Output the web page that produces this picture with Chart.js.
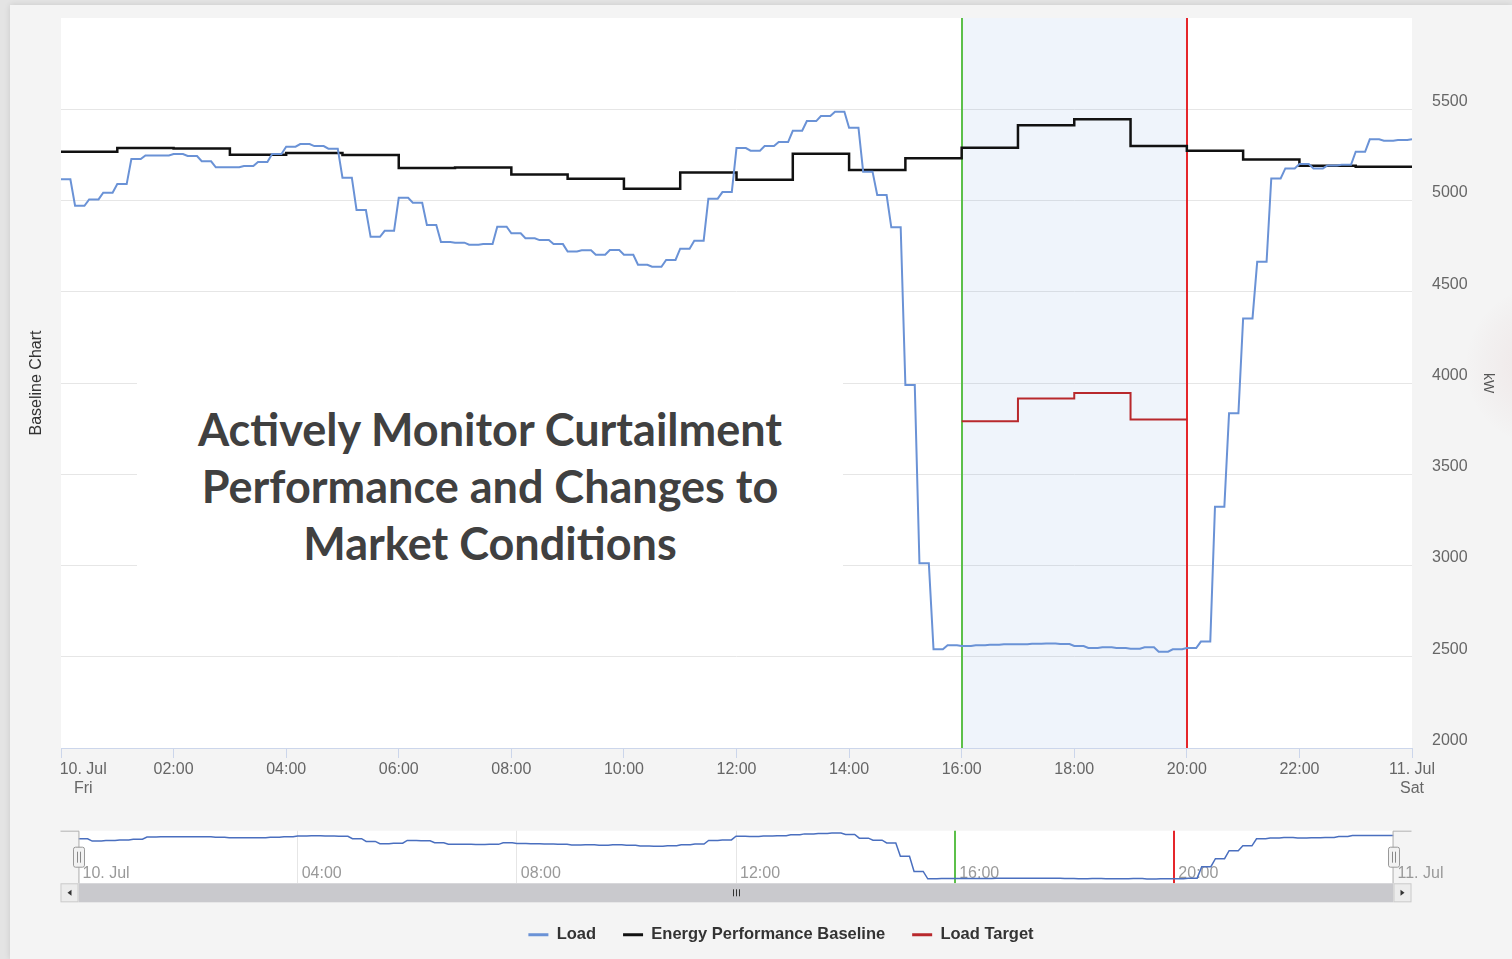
<!DOCTYPE html>
<html>
<head>
<meta charset="utf-8"/>
<title>Baseline Chart</title>
<script src="https://cdn.jsdelivr.net/npm/chart.js"></script>
<style type="text/css">
html, body{
  margin: 0;
  padding: 0;
  width: 1512px;
  height: 959px;
  overflow: hidden;
  background-color: #e4e4e4;
}
#card{
  position: absolute;
  left: 10px; top: 5px; right: 0; bottom: 0;
  background-color: #f4f4f4;
  box-shadow: 0 0 6px rgba(0,0,0,0.12);
}
#mainChart{ position: absolute; left: 0; top: 0; }
#navChart{ position: absolute; left: 0; top: 820px; }
#bubble{
  position: absolute;
  left: 1466px; top: 286px;
  width: 160px; height: 160px;
  border-radius: 50%;
  background: radial-gradient(circle, rgba(236,222,222,0.7) 0%, rgba(240,236,236,0.5) 55%, rgba(244,244,244,0) 72%);
}
#note{
  position: absolute;
  left: 137px; top: 300px;
  width: 706px; height: 350px;
  box-sizing: border-box;
  padding-top: 101px;
  background-color: #fff;
  text-align: center;
  font-family: Lato, "Open Sans", sans-serif;
  font-weight: bold;
  font-size: 45px;
  line-height: 57px;
  color: #404040;
}
</style>
</head>
<body>
<div id="card"></div>
<div id="bubble"></div>
<canvas id="mainChart" width="1535" height="953"></canvas>
<canvas id="navChart" width="1512" height="90"></canvas>
<div id="note">
  <div>Actively Monitor Curtailment</div>
  <div>Performance and Changes to</div>
  <div>Market Conditions</div>
</div>
<script>
// load in kW, one reading every 15 minutes, 10 Jul 00:00 .. 11 Jul 00:00
const loadKw = [
  5116, 4971, 5006, 5043, 5090, 5227, 5247, 5247,   // 00:00
  5255, 5244, 5215, 5182, 5182, 5189, 5211, 5255,   // 02:00
  5295, 5309, 5298, 5284, 5125, 4948, 4801, 4834,   // 04:00
  5015, 4988, 4866, 4772, 4769, 4758, 4761, 4856,   // 06:00
  4820, 4793, 4783, 4761, 4721, 4727, 4703, 4729,   // 08:00
  4703, 4648, 4637, 4674, 4736, 4780, 5010, 5046,   // 10:00
  5287, 5273, 5298, 5320, 5382, 5435, 5463, 5486,   // 12:00
  5399, 5158, 5030, 4853, 3989, 3012, 2541, 2563,   // 14:00
  2559, 2563, 2566, 2568, 2568, 2571, 2573, 2570,   // 16:00
  2559, 2548, 2552, 2548, 2544, 2552, 2528, 2541,   // 18:00
  2548, 2583, 3322, 3834, 4354, 4664, 5121, 5176,   // 20:00
  5200, 5176, 5192, 5196, 5267, 5335, 5327, 5331,   // 22:00
  5335
];
// energy performance baseline, one value per hour 00 .. 23
const baselineKw = [
  5267, 5287, 5285, 5251, 5260, 5249, 5178, 5181,
  5143, 5119, 5064, 5154, 5114, 5256, 5167, 5231,
  5289, 5413, 5445, 5298, 5273, 5225, 5190, 5185
];
// load target during the curtailment event
const targetHours = [16, 17, 18, 19];
const targetKw = [3790, 3915, 3945, 3800];
const eventStart = 16 * 60;
const eventEnd = 20 * 60;

const dayLabels = [['10. Jul', 'Fri'], ['11. Jul', 'Sat']];
const navDayLabels = ['10. Jul', '11. Jul'];

Chart.defaults.font.family = "'Liberation Sans', Arial, sans-serif";

function loadPoints(){
  var pts = [];
  for( var i = 0; i < loadKw.length; i++ ){
    pts.push({ x: i * 15, y: loadKw[i] });
    // reading is held most of the interval before moving on
    if( i < loadKw.length - 1 ) pts.push({ x: i * 15 + 10, y: loadKw[i] });
  }
  return pts;
}

function hourSteps( hours, vals ){
  var pts = hours.map(function( h, i ){ return { x: h * 60, y: vals[i] }; });
  pts.push({ x: (hours[hours.length - 1] + 1) * 60, y: vals[vals.length - 1] });
  return pts;
}

function hhmm( m ){
  var h = Math.floor( m / 60 ) % 24;
  return (h < 10 ? '0' : '') + h + ':00';
}

const baselineHours = baselineKw.map(function( v, i ){ return i; });

const eventWindow = {
  id: 'eventWindow',
  beforeDraw: function( chart ){
    var a = chart.chartArea, ctx = chart.ctx;
    ctx.save();
    ctx.fillStyle = '#ffffff';
    ctx.fillRect( a.left, a.top, a.right - a.left, a.bottom - a.top );
    ctx.restore();
  },
  beforeDatasetsDraw: function( chart, args, opts ){
    var a = chart.chartArea, ctx = chart.ctx, xs = chart.scales.x;
    var x0 = Math.round( xs.getPixelForValue( eventStart ) );
    var x1 = Math.round( xs.getPixelForValue( eventEnd ) );
    ctx.save();
    if( opts.band ){
      ctx.fillStyle = 'rgba(95,145,215,0.1)';
      ctx.fillRect( x0, a.top, x1 - x0, a.bottom - a.top );
    }
    ctx.lineWidth = 2;
    ctx.strokeStyle = '#5cc04a';
    ctx.beginPath(); ctx.moveTo( x0, a.top ); ctx.lineTo( x0, a.bottom ); ctx.stroke();
    ctx.strokeStyle = '#e5262b';
    ctx.beginPath(); ctx.moveTo( x1, a.top ); ctx.lineTo( x1, a.bottom ); ctx.stroke();
    ctx.restore();
  }
};

const navDecor = {
  id: 'navDecor',
  afterDraw: function( chart ){
    var a = chart.chartArea, ctx = chart.ctx;
    var btn = 18, top = a.bottom, h = 19;
    ctx.save();
    // scrollbar, thumb spans the whole range
    ctx.fillStyle = '#c9c9cd';
    ctx.fillRect( a.left, top, a.right - a.left, h );
    [[a.left - btn, -1], [a.right, 1]].forEach(function( b ){
      var bx = b[0], dir = b[1];
      ctx.fillStyle = '#ececec';
      ctx.fillRect( bx, top, btn, h );
      ctx.strokeStyle = '#cccccc';
      ctx.lineWidth = 1;
      ctx.strokeRect( bx + 0.5, top + 0.5, btn - 1, h - 1 );
      var cx = bx + btn / 2, cy = top + h / 2;
      ctx.fillStyle = '#333';
      ctx.beginPath();
      ctx.moveTo( cx + 2 * dir, cy );
      ctx.lineTo( cx - 2 * dir, cy - 3 );
      ctx.lineTo( cx - 2 * dir, cy + 3 );
      ctx.closePath();
      ctx.fill();
    });
    var gx = Math.round( (a.left + a.right) / 2 ), gy = top + h / 2;
    ctx.strokeStyle = '#333';
    ctx.beginPath();
    for( var k = -1; k <= 1; k++ ){
      ctx.moveTo( gx + 3 * k + 0.5, gy - 3.5 );
      ctx.lineTo( gx + 3 * k + 0.5, gy + 3.5 );
    }
    ctx.stroke();
    // outline
    ctx.strokeStyle = '#b3b3b3';
    ctx.beginPath();
    ctx.moveTo( a.left - btn, a.top + 0.5 );
    ctx.lineTo( a.left + 0.5, a.top + 0.5 );
    ctx.lineTo( a.left + 0.5, a.bottom );
    ctx.moveTo( a.right - 0.5, a.bottom );
    ctx.lineTo( a.right - 0.5, a.top + 0.5 );
    ctx.lineTo( a.right + btn, a.top + 0.5 );
    ctx.stroke();
    // handles
    [a.left, a.right].forEach(function( hx ){
      hx = Math.round( hx );
      ctx.fillStyle = '#f2f2f2';
      ctx.strokeStyle = '#999';
      ctx.beginPath();
      ctx.roundRect( hx - 5.5, a.top + 16.5, 11, 20, 2 );
      ctx.fill();
      ctx.stroke();
      ctx.strokeStyle = '#888';
      ctx.beginPath();
      ctx.moveTo( hx - 1.5, a.top + 21 ); ctx.lineTo( hx - 1.5, a.top + 32 );
      ctx.moveTo( hx + 1.5, a.top + 21 ); ctx.lineTo( hx + 1.5, a.top + 32 );
      ctx.stroke();
    });
    ctx.restore();
  }
};

const plotBottom = 748;

const mainChart = new Chart( document.getElementById( 'mainChart' ), {
  type: 'line',
  data: {
    datasets: [{
      label: 'Load',
      data: loadPoints(),
      borderColor: '#6a92d6',
      backgroundColor: '#6a92d6',
      borderWidth: 2
    }, {
      label: 'Energy Performance Baseline',
      data: hourSteps( baselineHours, baselineKw ),
      borderColor: '#111111',
      backgroundColor: '#111111',
      borderWidth: 2.5,
      stepped: true
    }, {
      label: 'Load Target',
      data: hourSteps( targetHours, targetKw ),
      borderColor: '#b8282c',
      backgroundColor: '#b8282c',
      borderWidth: 2,
      stepped: true
    }]
  },
  options: {
    responsive: false,
    animation: false,
    devicePixelRatio: 1,
    elements: { point: { radius: 0 }, line: { tension: 0 } },
    layout: { padding: { left: 27, top: 18, right: 0, bottom: 0 } },
    scales: {
      x: {
        type: 'linear',
        min: 0,
        max: 1440,
        border: { color: '#ccd6eb' },
        grid: { drawOnChartArea: false, drawTicks: true, tickLength: 10, color: '#ccd6eb' },
        ticks: {
          stepSize: 120,
          autoSkip: false,
          maxRotation: 0,
          padding: 2,
          color: '#666',
          font: { size: 16 },
          callback: function( v ){
            if( v === 0 ) return dayLabels[0].map(function( s ){ return '          ' + s; });
            if( v === 1440 ) return dayLabels[1];
            return hhmm( v );
          }
        },
        afterFit: function( s ){
          s.height = s.chart.height - s.chart.legend.height - plotBottom;
        }
      },
      y: {
        position: 'right',
        min: 2000,
        max: 6000,
        border: { display: false },
        grid: {
          drawTicks: true,
          tickLength: 20,
          tickColor: 'rgba(0,0,0,0)',
          color: function( c ){ return c.tick && c.tick.value === 6000 ? 'rgba(0,0,0,0)' : '#e6e6e6'; }
        },
        ticks: {
          stepSize: 500,
          padding: 0,
          labelOffset: -7.5,
          color: '#666',
          font: { size: 16 },
          callback: function( v ){ return v === 6000 ? '' : String( v ); }
        },
        title: { display: true, text: 'kW', color: '#555', font: { size: 14 }, padding: { top: 38.6, bottom: 0 } },
        afterFit: function( s ){ s.width = 123; }
      }
    },
    plugins: {
      title: {
        display: true,
        position: 'left',
        fullSize: false,
        text: 'Baseline Chart',
        color: '#333',
        font: { size: 16, weight: 'normal' },
        padding: { top: 0, bottom: 14.8 }
      },
      legend: {
        position: 'bottom',
        labels: {
          boxWidth: 20,
          boxHeight: 3,
          padding: 27,
          color: '#333',
          font: { size: 16.5, weight: 'bold' },
          generateLabels: function( chart ){
            var items = Chart.defaults.plugins.legend.labels.generateLabels( chart );
            items.forEach(function( it ){ it.fillStyle = it.strokeStyle; it.lineWidth = 0; });
            return items;
          }
        }
      },
      tooltip: { enabled: false },
      eventWindow: { band: true }
    }
  },
  plugins: [eventWindow]
});

const navChart = new Chart( document.getElementById( 'navChart' ), {
  type: 'line',
  data: {
    datasets: [{
      label: 'Load',
      data: loadPoints(),
      borderColor: '#4a6fbf',
      borderWidth: 1.5,
      fill: false
    }]
  },
  options: {
    responsive: false,
    animation: false,
    devicePixelRatio: 1,
    elements: { point: { radius: 0 }, line: { tension: 0 } },
    layout: { padding: { left: 78.5, right: 118.5, top: 10.7, bottom: 0 } },
    scales: {
      x: {
        type: 'linear',
        min: 0,
        max: 1440,
        border: { display: false },
        grid: { drawTicks: false, color: '#e6e6e6' },
        ticks: {
          stepSize: 240,
          autoSkip: false,
          maxRotation: 0,
          align: 'start',
          mirror: true,
          labelOffset: 4,
          padding: 0,
          color: '#999',
          font: { size: 16 },
          callback: function( v ){
            if( v === 0 ) return navDayLabels[0];
            if( v === 1440 ) return navDayLabels[1];
            return hhmm( v );
          }
        },
        afterFit: function( s ){ s.height = 26.7; }
      },
      y: { display: false, min: 2250, max: 5640 }
    },
    plugins: {
      legend: { display: false },
      tooltip: { enabled: false },
      eventWindow: { band: false }
    }
  },
  plugins: [eventWindow, navDecor]
});
</script>
</body>
</html>
